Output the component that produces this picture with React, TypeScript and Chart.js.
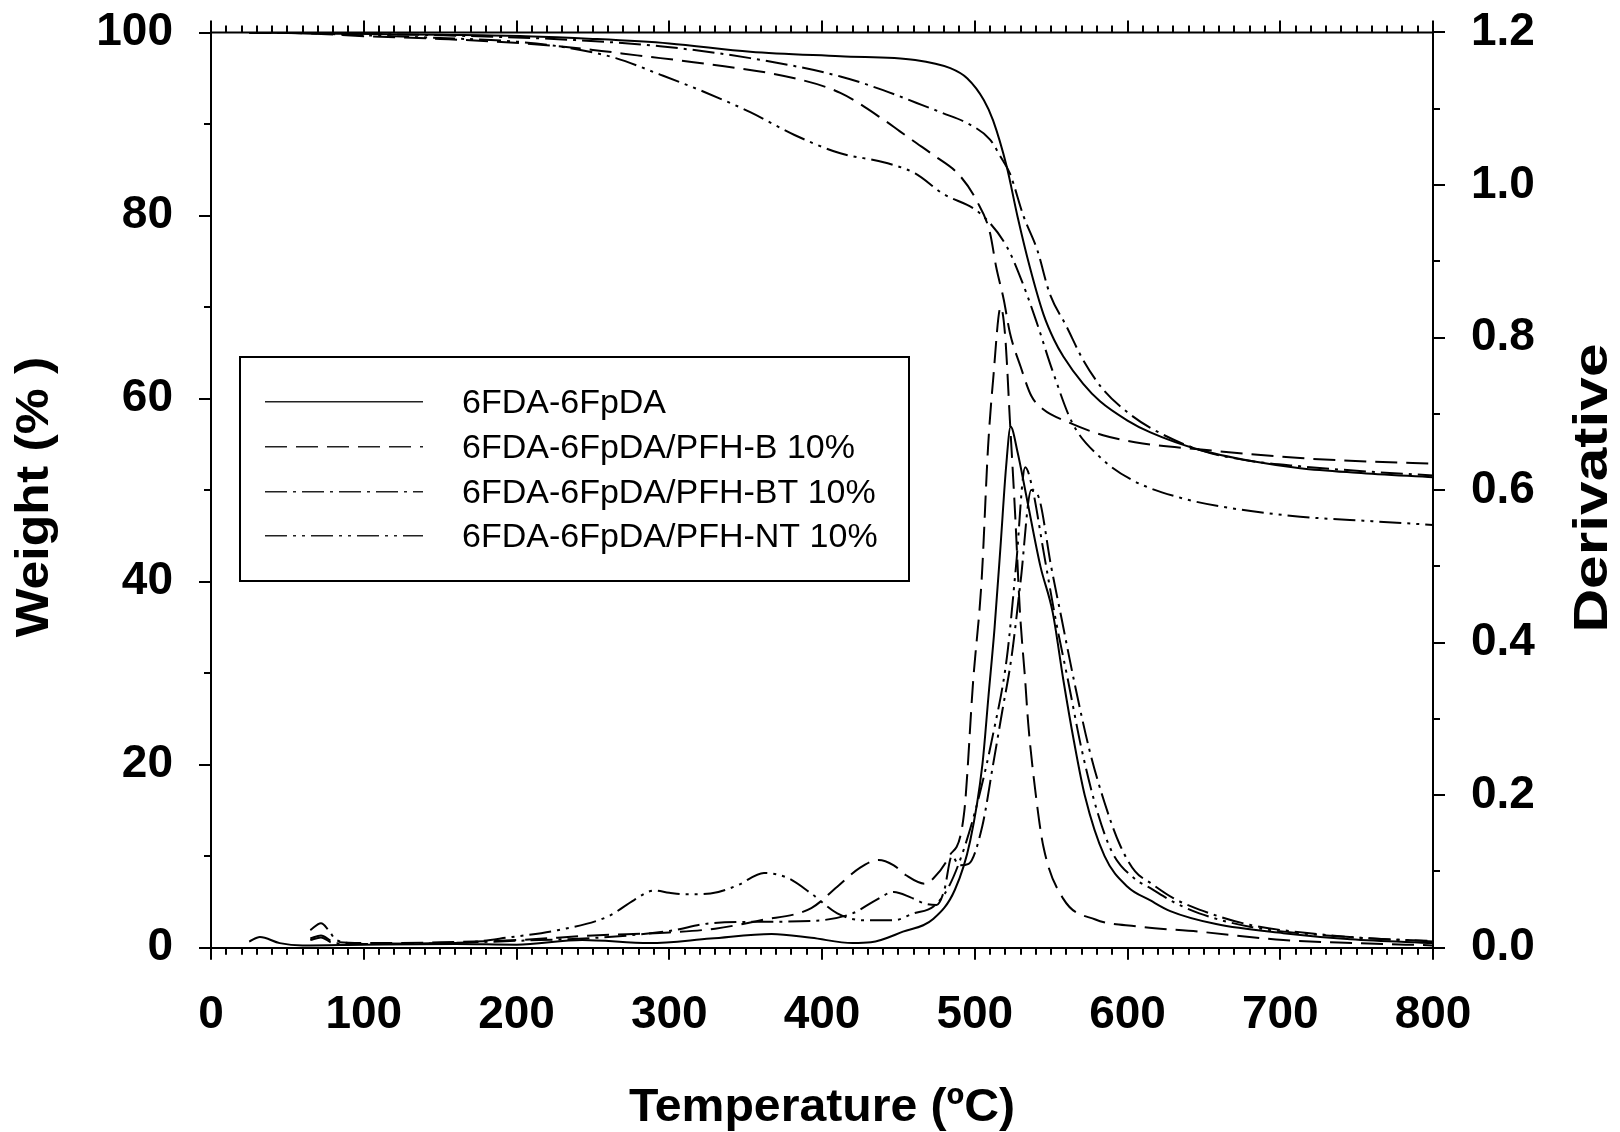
import React, { useEffect, useRef } from 'react';
import { Chart, registerables } from 'chart.js';

Chart.register(...registerables);

const FONT = '"Liberation Sans", Arial, Helvetica, sans-serif';

// ---- Series labels ----
const seriesLabels = [
  '6FDA-6FpDA',
  '6FDA-6FpDA/PFH-B 10%',
  '6FDA-6FpDA/PFH-BT 10%',
  '6FDA-6FpDA/PFH-NT 10%',
];

// ---- Weight (%) curves, left axis ----
const pureWeightT = [25, 50, 100, 150, 206, 250, 300, 353, 412, 461, 484, 495, 506, 512, 521, 528, 536, 545, 552, 558, 571, 582, 600, 615, 647, 680, 713, 750, 800];
const pureWeight = [100, 99.95, 99.85, 99.75, 99.6, 99.3, 98.8, 97.9, 97.4, 97.0, 96.1, 95.0, 92.6, 90.4, 85.3, 79.9, 74.4, 69.2, 66.4, 64.6, 61.6, 59.7, 57.6, 56.3, 54.4, 53.2, 52.4, 51.9, 51.4];

const bWeightT = [25, 65, 100, 150, 206, 250, 279, 323, 382, 412, 441, 451, 462, 473, 490, 501, 510, 514, 519, 523, 530, 537, 545, 560, 584, 610, 650, 713, 760, 800];
const bWeight = [100, 99.9, 99.6, 99.3, 98.8, 98.1, 97.5, 96.6, 95.0, 93.4, 90.4, 89.2, 87.9, 86.6, 84.4, 81.7, 78.1, 74.4, 70.8, 67.2, 63.5, 60.3, 58.8, 57.5, 56.0, 55.1, 54.4, 53.5, 53.1, 52.9];

const btWeightT = [25, 65, 100, 150, 235, 294, 353, 412, 440, 462, 479, 495, 510, 517, 523, 532, 541, 549, 560, 571, 584, 600, 615, 647, 680, 713, 760, 800];
const btWeight = [100, 99.95, 99.85, 99.7, 99.2, 98.5, 97.2, 95.2, 93.7, 92.3, 91.2, 90.1, 88.3, 86.4, 84.6, 79.9, 76.2, 71.5, 67.9, 64.2, 61.0, 58.5, 56.8, 54.4, 53.2, 52.6, 52.0, 51.6];

const ntWeightT = [25, 65, 100, 150, 200, 235, 265, 294, 323, 353, 382, 412, 441, 461, 479, 503, 521, 530, 540, 551, 564, 582, 603, 636, 669, 713, 760, 800];
const ntWeight = [100, 99.9, 99.7, 99.4, 99.0, 98.3, 97.2, 95.4, 93.5, 91.3, 88.8, 86.8, 85.8, 84.6, 82.4, 80.3, 76.6, 73.2, 68.6, 63.0, 57.3, 53.6, 51.1, 49.1, 48.0, 47.1, 46.6, 46.2];

// ---- Derivative curves, right axis ----
const pureDerivT = [25, 32, 45, 60, 100, 160, 200, 243, 287, 327, 367, 393, 420, 432, 453, 473, 487, 497, 505, 509, 513, 517, 520.5, 523.5, 528, 534, 543, 551, 558, 565, 572, 585, 600, 615, 628, 658, 702, 746, 800];
const pureDeriv = [0.008, 0.014, 0.006, 0.003, 0.004, 0.005, 0.004, 0.01, 0.006, 0.012, 0.018, 0.013, 0.006, 0.007, 0.021, 0.038, 0.076, 0.14, 0.24, 0.33, 0.42, 0.53, 0.63, 0.683, 0.65, 0.59, 0.5, 0.44, 0.351, 0.27, 0.2, 0.12, 0.08, 0.062, 0.048, 0.031, 0.019, 0.011, 0.006];

const bDerivT = [65, 72, 80, 100, 150, 200, 250, 300, 330, 360, 393, 410, 425, 437, 447, 455, 467, 473, 483, 493, 499, 504.5, 508.7, 512, 517, 520, 523, 526.4, 529.6, 533, 535, 540, 545, 558, 579, 606, 647, 702, 750, 800];
const bDeriv = [0.012, 0.016, 0.008, 0.006, 0.007, 0.01, 0.016, 0.02, 0.025, 0.036, 0.052, 0.08, 0.105, 0.115, 0.108, 0.095, 0.084, 0.091, 0.119, 0.176, 0.351, 0.482, 0.656, 0.744, 0.84, 0.8, 0.692, 0.57, 0.44, 0.351, 0.294, 0.2, 0.132, 0.064, 0.037, 0.028, 0.021, 0.01, 0.006, 0.003];

const btDerivT = [65, 72, 80, 100, 150, 200, 260, 300, 327, 360, 393, 420, 435, 447, 458, 467, 475, 480, 485, 490, 496, 505, 512, 518, 524, 530, 537, 542, 550, 557, 565, 575, 585, 595, 605, 615, 630, 647, 680, 724, 760, 800];
const btDeriv = [0.01, 0.0135, 0.006, 0.005, 0.006, 0.009, 0.014, 0.022, 0.032, 0.034, 0.035, 0.045, 0.062, 0.073, 0.066, 0.058, 0.056, 0.075, 0.12, 0.108, 0.11, 0.16, 0.24, 0.31, 0.38, 0.48, 0.6, 0.59, 0.5, 0.43, 0.35, 0.26, 0.19, 0.135, 0.1, 0.085, 0.065, 0.05, 0.03, 0.018, 0.012, 0.009];

const ntDerivT = [65, 72, 77, 82, 100, 160, 197, 227, 260, 277, 290, 300, 310, 327, 345, 362, 377, 393, 410, 427, 447, 460, 473, 483, 493, 503, 512, 521, 527, 533, 538, 545, 553, 561, 570, 580, 590, 605, 615, 630, 647, 680, 724, 800];
const ntDeriv = [0.023, 0.032, 0.023, 0.01, 0.005, 0.006, 0.014, 0.023, 0.041, 0.0625, 0.075, 0.072, 0.07, 0.071, 0.082, 0.098, 0.092, 0.071, 0.045, 0.036, 0.036, 0.045, 0.054, 0.08, 0.13, 0.2, 0.28, 0.38, 0.5, 0.63, 0.6, 0.52, 0.43, 0.351, 0.26, 0.18, 0.125, 0.09, 0.078, 0.06, 0.045, 0.0275, 0.017, 0.008];

// ---- Axis ranges / ticks ----
const xRange = [0, 800];
const xMajorStep = 100;
const xMinorStep = 10;
const weightRange = [0, 100];
const weightMajorStep = 20;
const weightMinorStep = 10;
const derivRange = [0, 1.2];
const derivMajorStep = 0.2;
const derivMinorStep = 0.1;

const dashPatterns: number[][] = [[], [22, 9], [22, 6, 3, 6], [22, 6, 3, 6, 3, 6]];

const toPts = (t: number[], v: number[]) => t.map((x, i) => ({ x, y: v[i] }));

function drawStretched(ctx: CanvasRenderingContext2D, text: string, cx: number, cy: number, rot: number, sx: number) {
  ctx.save();
  ctx.translate(cx, cy);
  ctx.rotate(rot);
  ctx.scale(sx, 1);
  ctx.fillText(text, 0, 0);
  ctx.restore();
}

const axisDecor = {
  id: 'axisDecor',
  afterDraw(chart: any) {
    const { ctx, chartArea: a, scales } = chart;
    const sx = scales.x;
    const sy = scales.y;
    const sy1 = scales.y1;
    ctx.save();
    ctx.strokeStyle = '#000';
    ctx.lineWidth = 2;
    ctx.lineCap = 'butt';
    ctx.setLineDash([]);
    ctx.beginPath();
    // top frame line
    ctx.moveTo(a.left - 1, a.top);
    ctx.lineTo(a.right + 1, a.top);
    // x ticks (bottom & top)
    const nx = Math.round((xRange[1] - xRange[0]) / xMinorStep);
    for (let i = 0; i <= nx; i++) {
      const v = xRange[0] + i * xMinorStep;
      const px = Math.round(sx.getPixelForValue(v));
      const major = Math.abs(v / xMajorStep - Math.round(v / xMajorStep)) < 1e-6;
      const len = major ? 12 : 7;
      ctx.moveTo(px, a.bottom);
      ctx.lineTo(px, a.bottom + len);
      ctx.moveTo(px, a.top);
      ctx.lineTo(px, a.top - len);
    }
    // left ticks
    const ny = Math.round((weightRange[1] - weightRange[0]) / weightMinorStep);
    for (let i = 0; i <= ny; i++) {
      const v = weightRange[0] + i * weightMinorStep;
      const py = Math.round(sy.getPixelForValue(v));
      const major = Math.abs(v / weightMajorStep - Math.round(v / weightMajorStep)) < 1e-6;
      const len = major ? 12 : 7;
      ctx.moveTo(a.left, py);
      ctx.lineTo(a.left - len, py);
    }
    // right ticks
    const ny1 = Math.round((derivRange[1] - derivRange[0]) / derivMinorStep);
    for (let i = 0; i <= ny1; i++) {
      const v = derivRange[0] + i * derivMinorStep;
      const py = Math.round(sy1.getPixelForValue(v));
      const major = i % Math.round(derivMajorStep / derivMinorStep) === 0;
      const len = major ? 12 : 7;
      ctx.moveTo(a.right, py);
      ctx.lineTo(a.right + len, py);
    }
    ctx.stroke();

    // axis titles
    ctx.fillStyle = '#000';
    ctx.font = `bold 47px ${FONT}`;
    ctx.textAlign = 'center';
    ctx.textBaseline = 'middle';
    drawStretched(ctx, 'Temperature (ºC)', (a.left + a.right) / 2, 1108, 0, 1.025);
    drawStretched(ctx, 'Weight (% )', 35, 497, -Math.PI / 2, 1.1);
    ctx.font = `bold 48px ${FONT}`;
    drawStretched(ctx, 'Derivative', 1594, 488, -Math.PI / 2, 1.26);

    // legend box
    const bx = 240, by = 357, bw = 669, bh = 224;
    ctx.lineWidth = 2;
    ctx.strokeRect(bx, by, bw, bh);
    const rowsY = [401.7, 446.7, 491.7, 535.7];
    ctx.font = `34px ${FONT}`;
    ctx.textAlign = 'left';
    ctx.textBaseline = 'middle';
    for (let i = 0; i < seriesLabels.length; i++) {
      ctx.save();
      ctx.strokeStyle = '#222';
      ctx.lineWidth = 1.6;
      ctx.setLineDash(dashPatterns[i]);
      ctx.beginPath();
      ctx.moveTo(265, rowsY[i]);
      ctx.lineTo(423, rowsY[i]);
      ctx.stroke();
      ctx.restore();
      ctx.fillText(seriesLabels[i], 462, rowsY[i] + 2);
    }
    ctx.restore();
  },
};

export default function App() {
  const ref = useRef<HTMLCanvasElement>(null);

  useEffect(() => {
    const canvas = ref.current;
    if (!canvas) return;
    const weightT = [pureWeightT, bWeightT, btWeightT, ntWeightT];
    const weightV = [pureWeight, bWeight, btWeight, ntWeight];
    const derivT = [pureDerivT, bDerivT, btDerivT, ntDerivT];
    const derivV = [pureDeriv, bDeriv, btDeriv, ntDeriv];
    const datasets: any[] = [];
    for (let i = 0; i < 4; i++) {
      datasets.push({
        label: seriesLabels[i],
        data: toPts(weightT[i], weightV[i]),
        yAxisID: 'y',
        borderColor: '#000',
        borderWidth: 2,
        borderDash: dashPatterns[i],
        pointRadius: 0,
        fill: false,
        cubicInterpolationMode: 'monotone',
      });
    }
    for (let i = 0; i < 4; i++) {
      datasets.push({
        label: seriesLabels[i] + ' (derivative)',
        data: toPts(derivT[i], derivV[i]),
        yAxisID: 'y1',
        borderColor: '#000',
        borderWidth: 2,
        borderDash: dashPatterns[i],
        pointRadius: 0,
        fill: false,
        cubicInterpolationMode: 'monotone',
      });
    }
    const tickFont = { family: FONT, size: 46, weight: 'bold' as const };
    const chart = new Chart(canvas, {
      type: 'line',
      data: { datasets },
      options: {
        animation: false,
        responsive: false,
        maintainAspectRatio: false,
        layout: { padding: { top: 32.5, left: 0, right: 0, bottom: 0 } },
        plugins: { legend: { display: false }, tooltip: { enabled: false }, title: { display: false } },
        scales: {
          x: {
            type: 'linear',
            position: 'bottom',
            min: xRange[0],
            max: xRange[1],
            ticks: { stepSize: xMajorStep, font: tickFont, color: '#000', padding: 40, maxRotation: 0, autoSkip: false },
            grid: { display: false, drawTicks: false, tickLength: 0 },
            border: { display: true, color: '#000', width: 2 },
            afterFit: (s: any) => { s.height = 1132 - 947.7; s.paddingLeft = 0; s.paddingRight = 0; },
          },
          y: {
            type: 'linear',
            position: 'left',
            min: weightRange[0],
            max: weightRange[1],
            ticks: { stepSize: weightMajorStep, font: tickFont, color: '#000', padding: 38 },
            grid: { display: false, drawTicks: false, tickLength: 0 },
            border: { display: true, color: '#000', width: 2 },
            afterFit: (s: any) => { s.width = 211; s.paddingTop = 0; s.paddingBottom = 0; },
          },
          y1: {
            type: 'linear',
            position: 'right',
            min: derivRange[0],
            max: derivRange[1],
            ticks: { stepSize: derivMajorStep, font: tickFont, color: '#000', padding: 38, callback: (v: any) => Number(v).toFixed(1) },
            grid: { display: false, drawTicks: false, tickLength: 0 },
            border: { display: true, color: '#000', width: 2 },
            afterFit: (s: any) => { s.width = 1620 - 1433; s.paddingTop = 0; s.paddingBottom = 0; },
          },
        },
      } as any,
      plugins: [axisDecor],
    });
    return () => chart.destroy();
  }, []);

  return (
    <div style={{ position: 'absolute', left: 0, top: 0, width: 1620, height: 1132, background: '#fff' }}>
      <canvas ref={ref} width={1620} height={1132} style={{ display: 'block', width: 1620, height: 1132 }} />
    </div>
  );
}
